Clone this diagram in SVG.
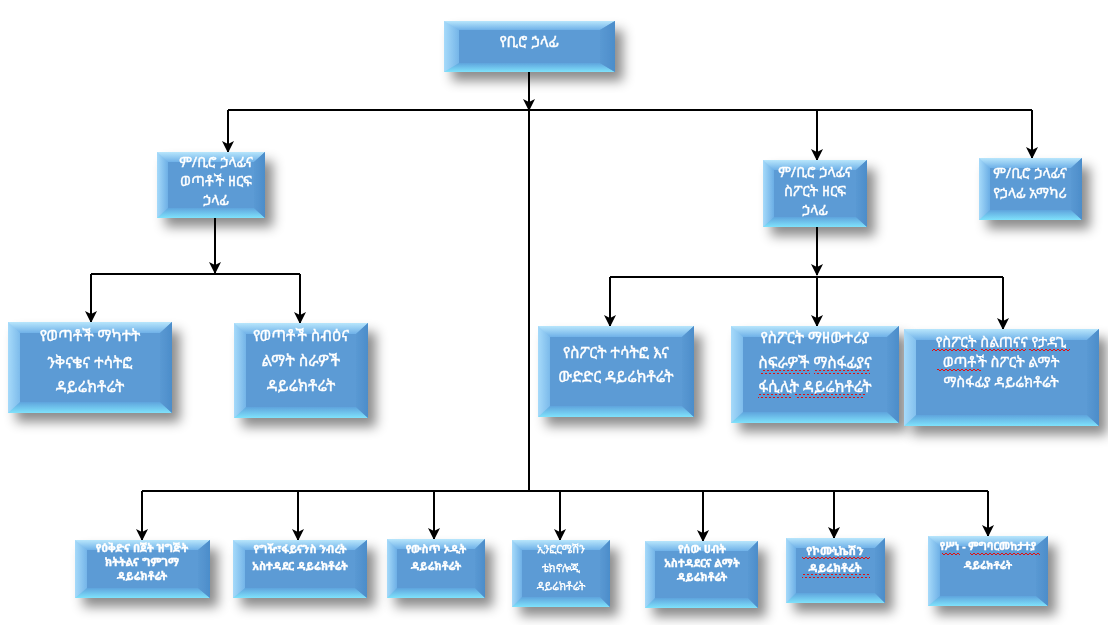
<svg xmlns="http://www.w3.org/2000/svg" width="1108" height="625" viewBox="0 0 1108 625">
<style>
.sd{fill:url(#gSide)}
.tp{fill:url(#gTop)}
.bt{fill:url(#gBot)}
.rt{fill:url(#gRight)}
.fc{fill:#5b9bd5}
.nd{filter:url(#shadow)}
.t{font-family:"Noto Sans Ethiopic","Abyssinica SIL","Noto Serif Ethiopic","Noto Sans",sans-serif;fill:#ffffff;stroke:#ffffff;stroke-width:0.35;text-anchor:middle}
.m{font-size:14.5px}
.l{font-size:15.5px}
.k{font-size:14.5px}
.s{font-size:11px;font-weight:bold}
.c{stroke:#000;stroke-width:2;fill:none}
.a{marker-end:url(#arr)}
.w{fill:url(#wave)}
</style>
<defs>
<linearGradient id="gSide" x1="0" y1="0" x2="1" y2="0"><stop offset="0" stop-color="#a6dafa"/><stop offset="0.1" stop-color="#6eb0e6"/><stop offset="1" stop-color="#5c9dd6"/></linearGradient>
<linearGradient id="gTop" x1="0" y1="0" x2="0" y2="1"><stop offset="0" stop-color="#b8e6fc"/><stop offset="1" stop-color="#6fb1e8"/></linearGradient>
<linearGradient id="gBot" x1="0" y1="0" x2="0" y2="1"><stop offset="0" stop-color="#5fa4dd"/><stop offset="1" stop-color="#7fe2fb"/></linearGradient>
<linearGradient id="gRight" x1="0" y1="0" x2="1" y2="0"><stop offset="0" stop-color="#5a99d3"/><stop offset="1" stop-color="#4c8dca"/></linearGradient>
<filter id="shadow" x="-20%" y="-20%" width="150%" height="160%"><feDropShadow dx="8" dy="9" stdDeviation="6" flood-color="#000" flood-opacity="0.45"/></filter>
<marker id="arr" viewBox="0 0 12 12" refX="11" refY="6" markerWidth="12" markerHeight="12" markerUnits="userSpaceOnUse" orient="auto"><path d="M0,0 L12,6 L0,12 L3,6 z" fill="#000"/></marker>
<pattern id="wave" width="4" height="4" patternUnits="userSpaceOnUse"><path d="M0,3 L2,1 L4,3" stroke="#e01010" stroke-width="1" fill="none"/></pattern>
</defs>

<g id="connectors">
<path class="c a" d="M529,72 V110"/>
<path class="c" d="M529,110 V491"/>
<path class="c" d="M228,110 H1032"/>
<path class="c a" d="M228,110 V152"/>
<path class="c a" d="M817,110 V160"/>
<path class="c a" d="M1032,110 V158"/>
<path class="c a" d="M215,218 V273"/>
<path class="c" d="M91,274 H300"/>
<path class="c a" d="M91,274 V322"/>
<path class="c a" d="M300,274 V323"/>
<path class="c a" d="M817,227 V275"/>
<path class="c" d="M610,277 H1003"/>
<path class="c a" d="M610,277 V326"/>
<path class="c a" d="M817,277 V326"/>
<path class="c a" d="M1003,277 V329"/>
<path class="c" d="M142,491 H988"/>
<path class="c a" d="M142,491 V540"/>
<path class="c a" d="M298,491 V540"/>
<path class="c a" d="M434,491 V539"/>
<path class="c a" d="M560,491 V540"/>
<path class="c a" d="M703,491 V541"/>
<path class="c a" d="M834,491 V538"/>
<path class="c a" d="M988,491 V536"/>
</g>

<g id="n-top" class="nd">
<rect class="sd" x="444" y="21" width="171" height="51"/>
<polygon class="tp" points="444,21 615,21 600,30 459,30"/>
<polygon class="bt" points="444,72 615,72 600,63 459,63"/>
<polygon class="rt" points="615,21 615,72 600,63 600,30"/>
<rect class="fc" x="459" y="30" width="141" height="33"/>
<text class="t l" x="529" y="47">የቢሮ ኃላፊ</text>
</g>

<g id="n-dep-youth" class="nd">
<rect class="sd" x="157" y="152" width="108" height="66"/>
<polygon class="tp" points="157,152 265,152 254,162 168,162"/>
<polygon class="bt" points="157,218 265,218 254,208 168,208"/>
<polygon class="rt" points="265,152 265,218 254,208 254,162"/>
<rect class="fc" x="168" y="162" width="86" height="46"/>
<text class="t m" x="216" y="167">ም/ቢሮ ኃላፊና</text>
<text class="t m" x="216" y="186">ወጣቶች ዘርፍ</text>
<text class="t m" x="216" y="205">ኃላፊ</text>
</g>

<g id="n-dep-sport" class="nd">
<rect class="sd" x="763" y="160" width="104" height="67"/>
<polygon class="tp" points="763,160 867,160 856,170 774,170"/>
<polygon class="bt" points="763,227 867,227 856,217 774,217"/>
<polygon class="rt" points="867,160 867,227 856,217 856,170"/>
<rect class="fc" x="774" y="170" width="82" height="47"/>
<text class="t m" x="815" y="177">ም/ቢሮ ኃላፊና</text>
<text class="t m" x="815" y="196">ስፖርት ዘርፍ</text>
<text class="t m" x="815" y="215">ኃላፊ</text>
</g>

<g id="n-advisor" class="nd">
<rect class="sd" x="979" y="158" width="103" height="62"/>
<polygon class="tp" points="979,158 1082,158 1071,168 990,168"/>
<polygon class="bt" points="979,220 1082,220 1071,210 990,210"/>
<polygon class="rt" points="1082,158 1082,220 1071,210 1071,168"/>
<rect class="fc" x="990" y="168" width="81" height="42"/>
<text class="t m" x="1030" y="178">ም/ቢሮ ኃላፊና</text>
<text class="t m" x="1030" y="198">የኃላፊ አማካሪ</text>
</g>

<g id="n-youth-inclusion" class="nd">
<rect class="sd" x="8" y="322" width="164" height="91"/>
<polygon class="tp" points="8,322 172,322 160,333 20,333"/>
<polygon class="bt" points="8,413 172,413 160,402 20,402"/>
<polygon class="rt" points="172,322 172,413 160,402 160,333"/>
<rect class="fc" x="20" y="333" width="140" height="69"/>
<text class="t l" x="90" y="341">የወጣቶች ማካተት</text>
<text class="t l" x="90" y="368">ንቅናቄና ተሳትፎ</text>
<text class="t l" x="90" y="392">ዳይሬክቶሬት</text>
</g>

<g id="n-youth-personality" class="nd">
<rect class="sd" x="234" y="323" width="134" height="95"/>
<polygon class="tp" points="234,323 368,323 356,334 246,334"/>
<polygon class="bt" points="234,418 368,418 356,407 246,407"/>
<polygon class="rt" points="368,323 368,418 356,407 356,334"/>
<rect class="fc" x="246" y="334" width="110" height="73"/>
<text class="t l" x="301" y="341">የወጣቶች ስብዕና</text>
<text class="t l" x="301" y="366">ልማት ስራዎች</text>
<text class="t l" x="301" y="391">ዳይሬክቶሬት</text>
</g>

<g id="n-sport-participation" class="nd">
<rect class="sd" x="538" y="326" width="156" height="91"/>
<polygon class="tp" points="538,326 694,326 682,337 550,337"/>
<polygon class="bt" points="538,417 694,417 682,406 550,406"/>
<polygon class="rt" points="694,326 694,417 682,406 682,337"/>
<rect class="fc" x="550" y="337" width="132" height="69"/>
<text class="t l" x="616" y="358">የስፖርት ተሳትፎ እና</text>
<text class="t l" x="616" y="382">ውድድር ዳይሬክቶሬት</text>
</g>

<g id="n-sport-facilities" class="nd">
<rect class="sd" x="731" y="326" width="168" height="97"/>
<polygon class="tp" points="731,326 899,326 887,337 743,337"/>
<polygon class="bt" points="731,423 899,423 887,412 743,412"/>
<polygon class="rt" points="899,326 899,423 887,412 887,337"/>
<rect class="fc" x="743" y="337" width="144" height="75"/>
<text class="t l" x="815" y="343">የስፖርት ማዘውተሪያ</text>
<text class="t l" x="815" y="368">ስፍራዎች ማስፋፊያና</text>
<text class="t l" x="815" y="392">ፋሲሊት ዳይሬክቶሬት</text>
</g>

<g id="n-sport-training" class="nd">
<rect class="sd" x="904" y="329" width="195" height="97"/>
<polygon class="tp" points="904,329 1099,329 1087,340 916,340"/>
<polygon class="bt" points="904,426 1099,426 1087,415 916,415"/>
<polygon class="rt" points="1099,329 1099,426 1087,415 1087,340"/>
<rect class="fc" x="916" y="340" width="171" height="75"/>
<text class="t k" x="1001" y="347">የስፖርት ስልጠናና የታዳጊ</text>
<text class="t k" x="1001" y="367">ወጣቶች ስፖርት ልማት</text>
<text class="t k" x="1001" y="387">ማስፋፊያ ዳይሬክቶሬት</text>
</g>

<g id="n-plan" class="nd">
<rect class="sd" x="75" y="540" width="135" height="58"/>
<polygon class="tp" points="75,540 210,540 198,550 87,550"/>
<polygon class="bt" points="75,598 210,598 198,588 87,588"/>
<polygon class="rt" points="210,540 210,598 198,588 198,550"/>
<rect class="fc" x="87" y="550" width="111" height="38"/>
<text class="t s" x="142" y="552">የዕቅድና በጀት ዝግጅት</text>
<text class="t s" x="142" y="566">ክትትልና ግምገማ</text>
<text class="t s" x="142" y="580">ዳይሬክቶሬት</text>
</g>

<g id="n-finance" class="nd">
<rect class="sd" x="233" y="540" width="134" height="58"/>
<polygon class="tp" points="233,540 367,540 355,550 245,550"/>
<polygon class="bt" points="233,598 367,598 355,588 245,588"/>
<polygon class="rt" points="367,540 367,598 355,588 355,550"/>
<rect class="fc" x="245" y="550" width="110" height="38"/>
<text class="t s" x="300" y="553">የግዥ፣ፋይናንስ ንብረት</text>
<text class="t s" x="300" y="570">አስተዳደር ዳይሬክቶሬት</text>
</g>

<g id="n-audit" class="nd">
<rect class="sd" x="387" y="539" width="98" height="59"/>
<polygon class="tp" points="387,539 485,539 475,549 397,549"/>
<polygon class="bt" points="387,598 485,598 475,588 397,588"/>
<polygon class="rt" points="485,539 485,598 475,588 475,549"/>
<rect class="fc" x="397" y="549" width="78" height="39"/>
<text class="t s" x="436" y="553">የውስጥ ኦዲት</text>
<text class="t s" x="436" y="570">ዳይሬክቶሬት</text>
</g>

<g id="n-ict" class="nd">
<rect class="sd" x="512" y="540" width="98" height="67"/>
<polygon class="tp" points="512,540 610,540 600,550 522,550"/>
<polygon class="bt" points="512,607 610,607 600,597 522,597"/>
<polygon class="rt" points="610,540 610,607 600,597 600,550"/>
<rect class="fc" x="522" y="550" width="78" height="47"/>
<text class="t s" x="561" y="553" style="font-weight:normal">ኢንፎርሜሽን</text>
<text class="t s" x="561" y="572" style="font-weight:normal">ቴክኖሎጂ</text>
<text class="t s" x="561" y="590" style="font-weight:normal">ዳይሬክቶሬት</text>
</g>

<g id="n-hr" class="nd">
<rect class="sd" x="645" y="541" width="113" height="67"/>
<polygon class="tp" points="645,541 758,541 748,551 655,551"/>
<polygon class="bt" points="645,608 758,608 748,598 655,598"/>
<polygon class="rt" points="758,541 758,608 748,598 748,551"/>
<rect class="fc" x="655" y="551" width="93" height="47"/>
<text class="t s" x="702" y="553">የሰው ሀብት</text>
<text class="t s" x="702" y="567">አስተዳደርና ልማት</text>
<text class="t s" x="702" y="581">ዳይሬክቶሬት</text>
</g>

<g id="n-comm" class="nd">
<rect class="sd" x="786" y="538" width="99" height="65"/>
<polygon class="tp" points="786,538 885,538 875,548 796,548"/>
<polygon class="bt" points="786,603 885,603 875,593 796,593"/>
<polygon class="rt" points="885,538 885,603 875,593 875,548"/>
<rect class="fc" x="796" y="548" width="79" height="45"/>
<text class="t" x="835" y="555" style="font-size:11.5px;font-weight:bold">የኮሙኒኬሽን</text>
<text class="t" x="835" y="572" style="font-size:11.5px;font-weight:bold">ዳይሬክቶሬት</text>
</g>

<g id="n-ethics" class="nd">
<rect class="sd" x="928" y="536" width="120" height="70"/>
<polygon class="tp" points="928,536 1048,536 1036,546 940,546"/>
<polygon class="bt" points="928,606 1048,606 1036,596 940,596"/>
<polygon class="rt" points="1048,536 1048,606 1036,596 1036,546"/>
<rect class="fc" x="940" y="546" width="96" height="50"/>
<text class="t s" x="988" y="550" style="font-size:10.5px">የሥነ - ምግባርመከታተያ</text>
<text class="t s" x="988" y="569" style="font-size:10.5px">ዳይሬክቶሬት</text>
</g>

<g id="spellcheck-marks">
<rect class="w" x="761" y="370" width="49" height="4"/>
<rect class="w" x="814" y="370" width="56" height="4"/>
<rect class="w" x="758" y="394" width="33" height="4"/>
<rect class="w" x="795" y="394" width="70" height="4"/>
<rect class="w" x="932" y="349" width="45" height="4"/>
<rect class="w" x="981" y="349" width="45" height="4"/>
<rect class="w" x="1029" y="349" width="41" height="4"/>
<rect class="w" x="937" y="369" width="44" height="4"/>
<rect class="w" x="802" y="557" width="68" height="4"/>
<rect class="w" x="802" y="574" width="68" height="4"/>
<rect class="w" x="942" y="552" width="18" height="4"/>
<rect class="w" x="970" y="552" width="70" height="4"/>
</g>
</svg>
